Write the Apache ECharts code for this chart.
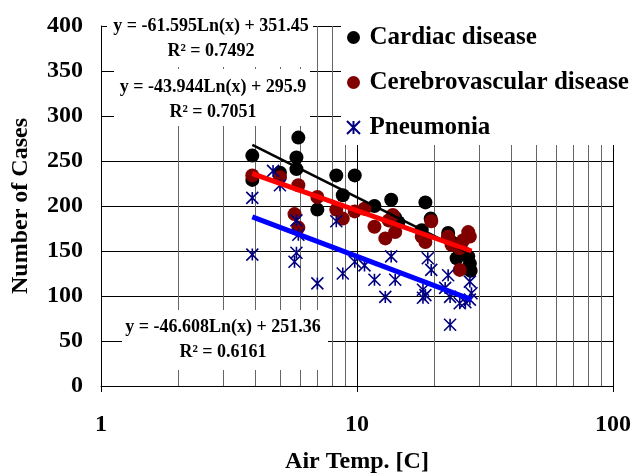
<!DOCTYPE html>
<html>
<head>
<meta charset="utf-8">
<script src="https://cdn.jsdelivr.net/npm/echarts@6/dist/echarts.min.js"></script>
<style>
  html, body { margin: 0; padding: 0; background: #fff; }
  #main { width: 634px; height: 474px; }
</style>
</head>
<body>
<div id="main"></div>
<script>
// data: [air temp, cases]
const cardiac = [
  [3.9, 256], [3.9, 229], [5.0, 237], [5.9, 276], [5.8, 254], [5.8, 241],
  [7.0, 196], [8.3, 234], [8.8, 212], [9.8, 234], [11.7, 200], [13.6, 207],
  [14.1, 187], [14.5, 182], [18.5, 204], [19.4, 186], [17.9, 173], [22.7, 170],
  [23.4, 160], [24.5, 142], [25.2, 150], [26.0, 149], [27.2, 144], [27.6, 136],
  [27.8, 128], [22.7, 165]
];
const cerebro = [
  [3.9, 234], [5.0, 232], [5.9, 223], [5.7, 191], [5.9, 176], [7.0, 210],
  [8.3, 196], [8.8, 186], [9.8, 194], [10.7, 197], [11.7, 177], [12.9, 164],
  [14.1, 171], [13.3, 184], [13.8, 190], [19.5, 183], [18.5, 160], [17.9, 166],
  [22.7, 166], [23.4, 157], [27.2, 171], [27.6, 166], [26.0, 162], [25.2, 153],
  [25.2, 129]
];
const pneumonia = [
  [3.9, 209], [3.9, 146], [4.7, 239], [5.0, 223], [5.8, 184], [5.9, 168],
  [5.8, 148], [5.7, 138], [7.0, 114], [8.3, 183], [8.8, 125], [9.8, 138],
  [10.7, 134], [11.7, 118], [12.9, 99], [13.6, 144], [14.1, 118], [18.9, 142],
  [19.5, 129], [18.1, 107], [18.1, 98], [18.5, 101], [22.7, 123], [22.1, 109],
  [23.1, 99], [25.2, 92], [23.1, 68], [27.6, 116], [28.0, 103], [27.6, 96],
  [26.5, 93]
];
// trend line ends (log fits)
const cardiacTrend = [[3.9, 268], [28, 146]];
const cerebroTrend = [[3.9, 236], [28, 150]];
const pneumoniaTrend = [[3.9, 188], [28, 96]];

const seriesNames = ['Cardiac disease', 'Cerebrovascular disease', 'Pneumonia'];
const minorGrid = [2, 3, 4, 5, 6, 7, 8, 9, 20, 30, 40, 50, 60, 70, 80, 90];
const equations = [
  ['y = -61.595Ln(x) + 351.45', 'R\u00b2 = 0.7492'],
  ['y = -43.944Ln(x) + 295.9', 'R\u00b2 = 0.7051'],
  ['y = -46.608Ln(x) + 251.36', 'R\u00b2 = 0.6161']
];

const serif = '"Liberation Serif", "Times New Roman", serif';
const star = 'path://M5,0L5,10M0,0L10,10M0,10L10,0';

let chart = echarts.init(document.getElementById('main'));

// white boxes behind the trend equations
function eqBox(i, x, y, w, h, cx, ty) {
  return [
    { type: 'rect', x: x, y: y, shape: { width: w, height: h }, style: { fill: '#fff' }, z: 50 },
    { type: 'text', x: cx, y: ty, z: 51,
      style: { text: equations[i][0], font: 'bold 18px ' + serif, fill: '#000', align: 'center', verticalAlign: 'middle' } },
    { type: 'text', x: cx, y: ty + 25, z: 51,
      style: { text: equations[i][1], font: 'bold 18px ' + serif, fill: '#000', align: 'center', verticalAlign: 'middle' } }
  ];
}

const option = {
  animation: false,
  backgroundColor: '#fff',
  grid: { left: 101, right: 21, top: 26, bottom: 88, containLabel: false, outerBoundsMode: 'none' },
  legend: {
    data: seriesNames,
    orient: 'vertical',
    left: 341,
    top: 20,
    padding: [5, 6, 5, 5],
    itemWidth: 22,
    itemHeight: 13,
    itemGap: 20,
    backgroundColor: '#fff',
    z: 20,
    textStyle: { fontFamily: serif, fontWeight: 'bold', fontSize: 25, color: '#000' }
  },
  xAxis: {
    type: 'log',
    logBase: 10,
    min: 1,
    max: 100,
    name: 'Air Temp. [C]',
    nameLocation: 'middle',
    nameGap: 64,
    nameTextStyle: { fontFamily: serif, fontWeight: 'bold', fontSize: 24, color: '#000' },
    axisLine: { lineStyle: { color: '#000', width: 1 } },
    axisTick: { show: true, inside: false, length: 6, lineStyle: { color: '#000' } },
    axisLabel: { fontFamily: serif, fontWeight: 'bold', fontSize: 24, color: '#000', margin: 27 },
    splitLine: { show: true, lineStyle: { color: '#000', width: 1 } }
  },
  yAxis: {
    type: 'value',
    min: 0,
    max: 400,
    interval: 50,
    name: 'Number of Cases',
    nameLocation: 'middle',
    nameGap: 68,
    nameTextStyle: { fontFamily: serif, fontWeight: 'bold', fontSize: 24, color: '#000' },
    axisLine: { show: true, lineStyle: { color: '#000', width: 1 } },
    axisTick: { show: false },
    axisLabel: { fontFamily: serif, fontWeight: 'bold', fontSize: 24, color: '#000', margin: 18 },
    splitLine: { show: true, lineStyle: { color: '#000', width: 1 } }
  },
  graphic: [].concat(
    eqBox(0, 107, 12, 206, 55, 211, 26),
    eqBox(1, 114, 69, 196, 57, 213, 87),
    eqBox(2, 122, 310, 206, 60, 223, 327)
  ),
  series: [
    {
      // minor vertical grid lines
      type: 'scatter',
      data: [],
      silent: true,
      markLine: {
        silent: true,
        symbol: 'none',
        z: 1,
        label: { show: false },
        lineStyle: { color: '#666', width: 1, type: 'solid' },
        data: minorGrid.map(v => ({ xAxis: v }))
      }
    },
    {
      name: seriesNames[0],
      type: 'scatter',
      symbol: 'circle',
      symbolSize: 14,
      itemStyle: { color: '#000', opacity: 1 },
      data: cardiac,
      z: 3
    },
    {
      name: seriesNames[1],
      type: 'scatter',
      symbol: 'circle',
      symbolSize: 14,
      itemStyle: { color: '#800000', opacity: 1 },
      data: cerebro,
      z: 4
    },
    {
      name: seriesNames[2],
      type: 'scatter',
      symbol: star,
      symbolSize: 12,
      itemStyle: { color: '#000080', borderColor: '#000080', borderWidth: 1.6, opacity: 1 },
      data: pneumonia,
      z: 5
    },
    {
      type: 'line',
      data: cardiacTrend,
      symbol: 'none',
      silent: true,
      lineStyle: { color: '#000', width: 2.5 },
      z: 6
    },
    {
      type: 'line',
      data: cerebroTrend,
      symbol: 'none',
      silent: true,
      lineStyle: { color: '#ff0000', width: 5 },
      z: 6
    },
    {
      type: 'line',
      data: pneumoniaTrend,
      symbol: 'none',
      silent: true,
      lineStyle: { color: '#0000ff', width: 5 },
      z: 6
    }
  ]
};

chart.setOption(option);
</script>
</body>
</html>
